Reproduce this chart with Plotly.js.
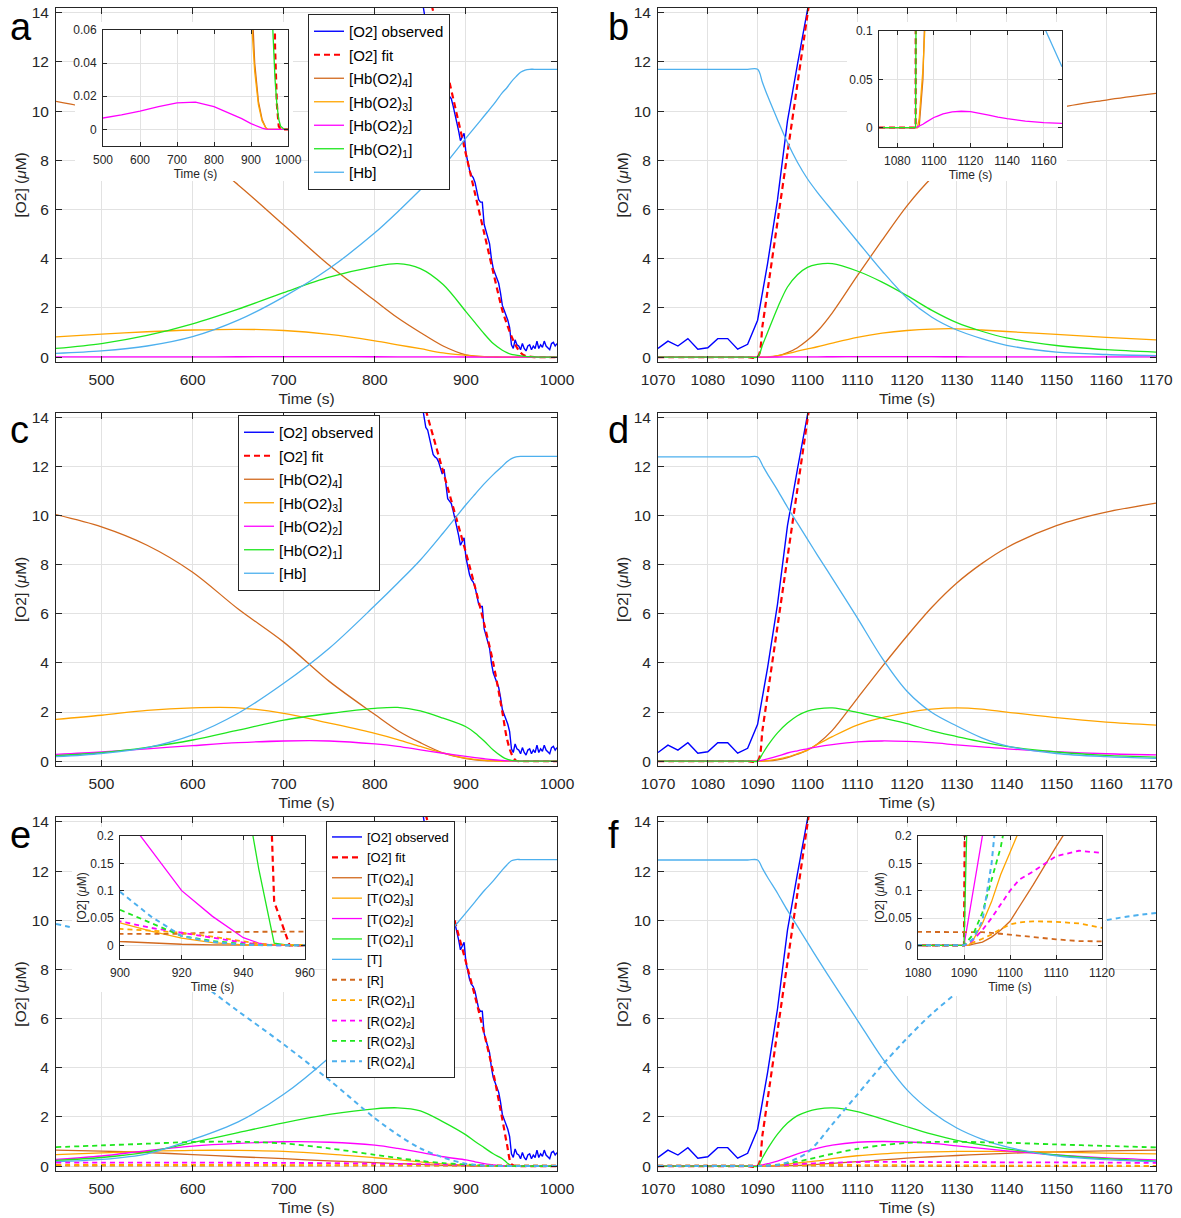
<!DOCTYPE html>
<html><head><meta charset="utf-8">
<script src="https://cdn.plot.ly/plotly-3.0.1.min.js"></script>
<style>html,body{margin:0;padding:0;background:#fff}#p{width:1181px;height:1218px}</style>
</head><body><div id="p"></div>
<script>
// ---------- time grids ----------
const gridL = [450,500,550,600,650,700,750,800,825,850,875,900,910,920,930,940,945,950,955,960,965,970,975,980,990,1000];
const gridR = [1070,1080,1088,1090,1091,1092,1094,1096,1098,1100,1102,1105,1110,1115,1120,1125,1130,1135,1140,1150,1160,1170];

// ---------- observed O2 ----------
const obsLT = [852,854,856,858,860,862,864,866,868,870,872,874,876,878,880,882,884,886,888,890,892,894,896,898,900,902,904,906,908,910,912,914,916,918,920,922,924,926,928,930,932,934,936,938,940,942,944,946,948,950,952,954,956,958,960,962,964,966,968,970,972,974,976,978,980,982,984,986,988,990,992,994,996,998,1000];
const obsL = [14.5,14.0,13.6,13.5,13.2,12.9,12.5,12.4,12.35,12.2,11.9,11.7,11.9,11.3,10.7,10.6,10.5,10.2,9.9,9.6,9.2,8.8,8.95,9.1,8.3,7.9,7.6,7.4,7.3,7.1,6.7,6.4,6.3,6.3,5.4,5.1,4.8,4.6,4.0,3.6,3.4,3.2,3.0,2.6,2.1,1.9,1.7,1.5,1.2,0.5,0.35,0.7,0.5,0.45,0.3,0.55,0.35,0.25,0.45,0.5,0.3,0.45,0.35,0.65,0.35,0.5,0.4,0.65,0.45,0.35,0.3,0.55,0.6,0.45,0.55];
const obsRT = [1070,1072,1074,1076,1078,1080,1082,1084,1086,1088,1090,1092,1094,1096,1098,1100,1102];
const obsR = [0.35,0.65,0.45,0.75,0.32,0.38,0.75,0.75,0.32,0.52,1.5,3.8,6.4,9.6,11.9,14.0,16.3];

// ---------- panel a ----------
const aFit = [null,null,null,null,null,null,null,null,null,16.3,12.3,8.25,6.65,5.05,3.45,1.9,1.35,0.85,0.45,0.18,0.05,0.015,0.002,0,0,0];
const aHb4 = [10.4,10.0,9.3,8.45,7.0,5.37,3.73,2.3,1.6,1.0,0.45,0.09,0.04,0.017,0.006,0.001,0,0,0,0,0,0,0,0,0,0];
const aHb3 = [0.82,0.93,1.03,1.1,1.13,1.08,0.92,0.66,0.5,0.34,0.17,0.07,0.035,0.015,0.005,0.001,0,0,0,0,0,0,0,0,0,0];
const aHb2 = [0.005,0.0068,0.0088,0.011,0.0138,0.016,0.0165,0.0138,0.0115,0.009,0.0065,0.0035,0.0025,0.0015,0.0008,0.0002,0.0001,0,0,0,0,0,0,0,0,0];
const aHb1 = [0.35,0.55,0.88,1.35,1.95,2.62,3.25,3.68,3.8,3.6,2.95,1.85,1.4,0.95,0.55,0.28,0.18,0.11,0.08,0.05,0.03,0.015,0.006,0.002,0,0];
const aHb  = [0.15,0.25,0.45,0.83,1.5,2.45,3.6,5.05,5.9,6.8,7.75,8.9,9.35,9.8,10.25,10.75,10.95,11.2,11.4,11.58,11.67,11.7,11.7,11.7,11.7,11.7];

// ---------- panel b ----------
const rFit = [0,0,0,0,1.3,2.7,5.5,8.3,11.1,13.9,16.7,null,null,null,null,null,null,null,null,null,null,null];
const bHb4 = [0,0,0,0,0,0.002,0.05,0.18,0.38,0.68,1.05,1.8,3.3,4.75,6.15,7.3,8.2,8.9,9.4,10.1,10.45,10.72];
const bHb3 = [0,0,0,0,0,0.01,0.06,0.14,0.24,0.33,0.42,0.57,0.8,0.97,1.08,1.14,1.15,1.1,1.04,0.92,0.8,0.7];
const bHb2 = [0,0,0,0,0.0008,0.0015,0.0035,0.006,0.0085,0.0105,0.012,0.0143,0.0163,0.017,0.0165,0.015,0.013,0.011,0.0093,0.0068,0.0052,0.0045];
const bHb1 = [0,0,0,0,0.5,1.0,2.0,2.85,3.35,3.65,3.77,3.8,3.5,3.05,2.5,1.9,1.4,1.05,0.78,0.47,0.3,0.2];
const bHb  = [11.7,11.7,11.7,11.7,11.15,10.62,9.65,8.72,7.92,7.25,6.7,5.95,4.72,3.5,2.4,1.62,1.1,0.75,0.48,0.2,0.105,0.063];

// ---------- panel c ----------
const cFit = [null,null,null,null,null,null,null,null,null,15.1,11.8,8.5,7.1,5.6,4.0,2.0,0.92,0.3,0.02,0,0,0,0,0,0,0];
const cHb4 = [10.05,9.55,8.8,7.7,6.2,4.85,3.25,1.9,1.25,0.75,0.33,0.1,0.05,0.02,0.007,0.002,0.001,0,0,0,0,0,0,0,0,0];
const cHb3 = [1.7,1.87,2.07,2.17,2.17,1.95,1.55,1.13,0.88,0.6,0.33,0.12,0.07,0.035,0.015,0.004,0.002,0,0,0,0,0,0,0,0,0];
const cHb2 = [0.27,0.37,0.5,0.63,0.75,0.82,0.82,0.7,0.6,0.46,0.32,0.19,0.14,0.095,0.055,0.025,0.013,0.005,0.001,0,0,0,0,0,0,0];
const cHb1 = [0.22,0.34,0.56,0.86,1.26,1.67,1.94,2.15,2.19,2.05,1.75,1.4,1.15,0.82,0.45,0.17,0.08,0.025,0.005,0,0,0,0,0,0,0];
const cHb  = [0.18,0.31,0.55,1.07,1.95,3.17,4.6,6.34,7.25,8.2,9.3,10.45,10.88,11.3,11.68,12.02,12.2,12.33,12.4,12.42,12.42,12.42,12.42,12.42,12.42,12.42];

// ---------- panel d ----------
const dHb4 = [0,0,0,0,0,0.005,0.05,0.14,0.28,0.45,0.7,1.25,2.55,3.85,5.1,6.27,7.26,8.05,8.7,9.6,10.15,10.52];
const dHb3 = [0,0,0,0,0,0.02,0.08,0.17,0.3,0.45,0.68,1.0,1.47,1.77,1.98,2.12,2.17,2.12,2.0,1.77,1.59,1.47];
const dHb2 = [0,0,0,0,0.04,0.09,0.2,0.33,0.42,0.5,0.58,0.67,0.78,0.82,0.8,0.75,0.66,0.58,0.5,0.38,0.3,0.25];
const dHb1 = [0,0,0,0,0.3,0.62,1.15,1.55,1.85,2.04,2.13,2.17,1.99,1.76,1.53,1.23,1.0,0.78,0.6,0.37,0.23,0.16];
const dHb  = [12.4,12.4,12.4,12.4,12.05,11.7,11.05,10.35,9.7,9.05,8.4,7.45,5.85,4.2,2.85,1.98,1.43,0.95,0.62,0.31,0.18,0.11];

// ---------- panel e ----------
const eFit = [null,null,null,null,null,null,null,null,null,15.1,11.7,8.3,6.9,5.4,3.8,1.9,0.9,0.08,0,0,0,0,0,0,0,0];
const eT4 = [0.65,0.61,0.55,0.47,0.38,0.3,0.21,0.14,0.1,0.07,0.03,0.007,0.004,0.002,0.001,0,0,0,0,0,0,0,0,0,0,0];
const eT3 = [0.47,0.54,0.6,0.64,0.64,0.6,0.49,0.34,0.26,0.17,0.09,0.041,0.026,0.013,0.005,0.001,0,0,0,0,0,0,0,0,0,0];
const eT2 = [0.27,0.41,0.63,0.81,0.92,0.99,0.97,0.85,0.72,0.56,0.38,0.25,0.175,0.1,0.053,0.014,0.004,0,0,0,0,0,0,0,0,0];
const eT1 = [0.23,0.35,0.57,0.95,1.36,1.76,2.1,2.33,2.37,2.25,1.8,1.27,1.0,0.75,0.5,0.3,0.14,0.004,0,0,0,0,0,0,0,0];
const eT  = [0.18,0.27,0.5,1.08,1.8,2.92,4.42,6.2,7.15,8.1,9.2,10.3,10.75,11.2,11.6,12.05,12.25,12.42,12.47,12.47,12.47,12.47,12.47,12.47,12.47,12.47];
const eR  = [0.02,0.02,0.02,0.02,0.02,0.02,0.02,0.02,0.02,0.02,0.02,0.02,0.02,0.021,0.024,0.025,0.025,0.025,0.025,0.025,0.025,0.025,0.025,0.025,0.025,0.025];
const eR1 = [0.045,0.045,0.045,0.045,0.044,0.043,0.04,0.038,0.036,0.035,0.033,0.03,0.027,0.023,0.016,0.008,0.003,0.001,0,0,0,0,0,0,0,0];
const eR2 = [0.14,0.14,0.14,0.14,0.135,0.13,0.12,0.1,0.09,0.08,0.063,0.044,0.032,0.023,0.014,0.005,0.002,0,0,0,0,0,0,0,0,0];
const eR3 = [0.77,0.84,0.91,0.98,0.99,0.92,0.72,0.46,0.33,0.21,0.12,0.065,0.041,0.017,0.008,0.002,0.001,0,0,0,0,0,0,0,0,0];
const eR4 = [9.85,9.4,8.7,7.65,6.3,4.95,3.5,1.95,1.28,0.72,0.35,0.098,0.053,0.017,0.006,0.001,0,0,0,0,0,0,0,0,0,0];

// ---------- panel f ----------
const fT4 = [0,0,0,0,0,0.002,0.006,0.015,0.028,0.044,0.07,0.11,0.18,0.25,0.32,0.38,0.43,0.48,0.52,0.58,0.62,0.65];
const fT3 = [0,0,0,0,0,0.01,0.04,0.08,0.13,0.17,0.21,0.3,0.42,0.5,0.55,0.58,0.6,0.6,0.6,0.57,0.53,0.5];
const fT2 = [0,0,0,0,0.05,0.1,0.2,0.35,0.5,0.62,0.72,0.85,0.97,1.0,0.98,0.92,0.82,0.72,0.62,0.45,0.33,0.25];
const fT1 = [0,0,0,0,0.35,0.7,1.3,1.75,2.05,2.22,2.32,2.37,2.22,1.92,1.6,1.3,1.05,0.86,0.7,0.45,0.3,0.2];
const fT  = [12.45,12.45,12.45,12.45,12.1,11.75,11.1,10.4,9.75,9.1,8.45,7.5,5.95,4.4,3.1,2.2,1.55,1.1,0.78,0.42,0.26,0.18];
const fR  = [0.025,0.025,0.025,0.025,0.025,0.0248,0.024,0.0228,0.021,0.019,0.017,0.0145,0.011,0.0078,0.006,0.0048,0.004,0.0032,0.0026,0.0018,0.0013,0.001];
const fR1 = [0,0,0,0,0.002,0.005,0.012,0.02,0.03,0.038,0.042,0.044,0.043,0.04,0.032,0.029,0.026,0.023,0.021,0.017,0.014,0.012];
const fR2 = [0,0,0,0,0.003,0.01,0.028,0.05,0.075,0.1,0.12,0.135,0.163,0.173,0.169,0.165,0.16,0.157,0.154,0.148,0.14,0.13];
const fR3 = [0,0,0,0,0.01,0.02,0.06,0.12,0.18,0.27,0.36,0.5,0.7,0.85,0.94,0.98,0.99,0.97,0.95,0.88,0.82,0.76];
const fR4 = [0,0,0,0,0.005,0.012,0.045,0.15,0.32,0.55,0.95,1.7,2.9,4.1,5.2,6.2,7.05,7.85,8.5,9.4,10.0,10.3];

// ---------- labels ----------
const hbNames = ['[O2] observed','[O2] fit','[Hb(O2)<sub>4</sub>]','[Hb(O2)<sub>3</sub>]','[Hb(O2)<sub>2</sub>]','[Hb(O2)<sub>1</sub>]','[Hb]'];
const trNames = ['[O2] observed','[O2] fit','[T(O2)<sub>4</sub>]','[T(O2)<sub>3</sub>]','[T(O2)<sub>2</sub>]','[T(O2)<sub>1</sub>]','[T]','[R]','[R(O2)<sub>1</sub>]','[R(O2)<sub>2</sub>]','[R(O2)<sub>3</sub>]','[R(O2)<sub>4</sub>]'];
const panelLetters = ['a','b','c','d','e','f'];

// ---------- styling ----------
const W = 1181, H = 1218;
const FONT = 'Liberation Sans, Arial, Helvetica, sans-serif';
const C = {obs:'#0000ff', fit:'#ff0000', c4:'#d2691e', c3:'#ffa500', c2:'#ff00ff', c1:'#1ee61e', c0:'#4db0ee'};
const dx = (a,b) => [a/W, b/W];
const dy = (t,b) => [1-b/H, 1-t/H];

const traces = [];
function line(x, y, color, ax, o) {
  o = o || {};
  const t = {
    type:'scatter', mode:'lines', x:x, y:y,
    xaxis:'x'+ax, yaxis:'y'+ax,
    line:{color:color, width:o.w||1.3, dash:o.dash||'solid', shape:o.shape||'spline', smoothing:0.9},
    showlegend: !!o.name, hoverinfo:'skip', connectgaps:false
  };
  if (o.name) { t.name = o.name; t.legend = o.legend; t.legendgroup = o.legend + o.name; }
  traces.push(t);
}
const axN = n => (n === 1 ? '' : String(n));

function hbPanel(ax, gx, obsT, obsV, fit, s4, s3, s2, s1, s0, legendId, sh) {
  const nm = i => legendId ? {name:hbNames[i], legend:legendId} : {};
  if (obsV) line(obsT, obsV, C.obs, ax, Object.assign({w:1.4, shape:'linear'}, nm(0)));
  line(gx, fit, C.fit, ax, Object.assign({w:2.2, dash:'6px,4px', shape:sh}, nm(1)));
  line(gx, s4, C.c4, ax, Object.assign({shape:sh}, nm(2)));
  line(gx, s3, C.c3, ax, Object.assign({shape:sh}, nm(3)));
  line(gx, s2, C.c2, ax, Object.assign({shape:sh}, nm(4)));
  line(gx, s1, C.c1, ax, Object.assign({shape:sh}, nm(5)));
  line(gx, s0, C.c0, ax, Object.assign({shape:sh}, nm(6)));
}
function trPanel(ax, gx, obsT, obsV, fit, T4, T3, T2, T1, T0, R0, R1, R2, R3, R4, legendId, sh) {
  const nm = i => legendId ? {name:trNames[i], legend:legendId} : {};
  const dd = '5px,4px';
  if (obsV) line(obsT, obsV, C.obs, ax, Object.assign({w:1.4, shape:'linear'}, nm(0)));
  line(gx, fit, C.fit, ax, Object.assign({w:2.2, dash:'6px,4px', shape:sh}, nm(1)));
  line(gx, T4, C.c4, ax, Object.assign({shape:sh}, nm(2)));
  line(gx, T3, C.c3, ax, Object.assign({shape:sh}, nm(3)));
  line(gx, T2, C.c2, ax, Object.assign({shape:sh}, nm(4)));
  line(gx, T1, C.c1, ax, Object.assign({shape:sh}, nm(5)));
  line(gx, T0, C.c0, ax, Object.assign({shape:sh}, nm(6)));
  line(gx, R0, C.c4, ax, Object.assign({shape:sh, dash:dd, w:1.8}, nm(7)));
  line(gx, R1, C.c3, ax, Object.assign({shape:sh, dash:dd, w:1.8}, nm(8)));
  line(gx, R2, C.c2, ax, Object.assign({shape:sh, dash:dd, w:1.8}, nm(9)));
  line(gx, R3, C.c1, ax, Object.assign({shape:sh, dash:dd, w:1.8}, nm(10)));
  line(gx, R4, C.c0, ax, Object.assign({shape:sh, dash:dd, w:2.0}, nm(11)));
}

// main panels (axes 1..6)
hbPanel(1, gridL, obsLT, obsL, aFit, aHb4, aHb3, aHb2, aHb1, aHb, 'legend', 'spline');
hbPanel(2, gridR, obsRT, obsR, rFit, bHb4, bHb3, bHb2, bHb1, bHb, null, 'spline');
hbPanel(3, gridL, obsLT, obsL, cFit, cHb4, cHb3, cHb2, cHb1, cHb, 'legend2', 'spline');
hbPanel(4, gridR, obsRT, obsR, rFit, dHb4, dHb3, dHb2, dHb1, dHb, null, 'spline');
trPanel(5, gridL, obsLT, obsL, eFit, eT4, eT3, eT2, eT1, eT, eR, eR1, eR2, eR3, eR4, 'legend3', 'spline');
trPanel(6, gridR, obsRT, obsR, rFit, fT4, fT3, fT2, fT1, fT, fR, fR1, fR2, fR3, fR4, null, 'spline');
// white cover boxes behind the insets (axes 7..10)
for (let k = 7; k <= 10; k++) traces.push({type:'scatter', mode:'lines', x:[null], y:[null], xaxis:'x'+k, yaxis:'y'+k, showlegend:false, hoverinfo:'skip'});
// insets (axes 11..14)
hbPanel(11, gridL, null, null, aFit, aHb4, aHb3, aHb2, aHb1, aHb, null, 'linear');
hbPanel(12, gridR, null, null, rFit, bHb4, bHb3, bHb2, bHb1, bHb, null, 'linear');
trPanel(13, gridL, null, null, eFit, eT4, eT3, eT2, eT1, eT, eR, eR1, eR2, eR3, eR4, null, 'linear');
trPanel(14, gridR, null, null, rFit, fT4, fT3, fT2, fT1, fT, fR, fR1, fR2, fR3, fR4, null, 'linear');

// ---------- axes ----------
const layout = {
  width: W, height: H, margin:{l:0,r:0,t:0,b:0}, paper_bgcolor:'#fff', plot_bgcolor:'#fff',
  showlegend: true, annotations: [], font:{family:FONT, color:'#262626'}
};
function setAxes(n, xd, yd, xr, yr, xt0, xdt, yt0, ydt, fs, tl, xtitle, ytitle, xst, yst) {
  const common = {
    showline:true, mirror:'ticks', linecolor:'#262626', linewidth:1,
    ticks:'inside', ticklen:tl, tickwidth:1, tickcolor:'#262626',
    showgrid:true, gridcolor:'#e2e2e2', gridwidth:1, zeroline:false,
    tickfont:{family:FONT, size:fs, color:'#262626'}, tickmode:'linear', fixedrange:true,
    ticklabelstandoff: 3
  };
  const xa = Object.assign({}, common, {domain:xd, range:xr, tick0:xt0, dtick:xdt, anchor:'y'+axN(n)});
  const ya = Object.assign({}, common, {domain:yd, range:yr, tick0:yt0, dtick:ydt, anchor:'x'+axN(n)});
  if (xtitle) xa.title = {text:xtitle, font:{family:FONT, size:fs, color:'#262626'}, standoff:xst};
  if (ytitle) ya.title = {text:ytitle, font:{family:FONT, size:fs, color:'#262626'}, standoff:yst};
  layout['xaxis'+axN(n)] = xa;
  layout['yaxis'+axN(n)] = ya;
}
const yTitle = '[O2] (<i>μ</i>M)';
const xTitle = 'Time (s)';
const rowY = [dy(7.8,362), dy(412.8,766), dy(817,1171)];
const colXL = dx(56,557), colXR = dx(658,1156);
const YR = [-0.2,14.2];
setAxes(1, colXL, rowY[0], [450,1000], YR, 500, 100, 0, 2, 15.5, 6, xTitle, yTitle, 6, 1);
setAxes(2, colXR, rowY[0], [1070,1170], YR, 1070, 10, 0, 2, 15.5, 6, xTitle, yTitle, 6, 1);
setAxes(3, colXL, rowY[1], [450,1000], YR, 500, 100, 0, 2, 15.5, 6, xTitle, yTitle, 6, 1);
setAxes(4, colXR, rowY[1], [1070,1170], YR, 1070, 10, 0, 2, 15.5, 6, xTitle, yTitle, 6, 1);
setAxes(5, colXL, rowY[2], [450,1000], YR, 500, 100, 0, 2, 15.5, 6, xTitle, yTitle, 6, 1);
setAxes(6, colXR, rowY[2], [1070,1170], YR, 1070, 10, 0, 2, 15.5, 6, xTitle, yTitle, 6, 1);
// cover boxes
const covers = [[75,293,22,181],[847,1067,22,181],[72,309,827,992],[868,1105,827,996]];
covers.forEach((c,i) => {
  const n = 7 + i;
  layout['xaxis'+n] = {domain:dx(c[0],c[1]), visible:false, anchor:'y'+n, range:[0,1], fixedrange:true};
  layout['yaxis'+n] = {domain:dy(c[2],c[3]), visible:false, anchor:'x'+n, range:[0,1], fixedrange:true};
});
// insets
setAxes(11, dx(103,288), dy(30,146), [500,1000], [-0.01,0.06], 500, 100, 0, 0.02, 12, 4, xTitle, null, 2, 2);
setAxes(12, dx(879,1062), dy(31,147), [1070,1170], [-0.02,0.1], 1080, 20, 0, 0.05, 12, 4, xTitle, null, 2, 2);
setAxes(13, dx(120,305), dy(836,959), [900,960], [-0.025,0.2], 900, 20, 0, 0.05, 12, 4, xTitle, yTitle, 2, 1);
setAxes(14, dx(918,1102), dy(836,959), [1080,1120], [-0.025,0.2], 1080, 10, 0, 0.05, 12, 4, xTitle, yTitle, 2, 1);

// legends
const legBase = {bgcolor:'#ffffff', bordercolor:'#262626', borderwidth:1, itemwidth:30,
  xanchor:'left', yanchor:'top', traceorder:'grouped', itemclick:false, itemdoubleclick:false};
layout.legend  = Object.assign({}, legBase, {x:308/W, y:1-14/H,  font:{family:FONT,size:15,color:'#000'}, tracegroupgap:1});
layout.legend2 = Object.assign({}, legBase, {x:238/W, y:1-415/H, font:{family:FONT,size:15,color:'#000'}, tracegroupgap:1});
layout.legend3 = Object.assign({}, legBase, {x:326/W, y:1-821/H, font:{family:FONT,size:13,color:'#000'}, tracegroupgap:0.5});

// panel letters
const letterPos = [[8,4],[606,4],[8,407],[606,407],[8,812],[606,812]];
panelLetters.forEach((L,i) => {
  layout.annotations.push({text:L, xref:'paper', yref:'paper', x:letterPos[i][0]/W, y:1-letterPos[i][1]/H,
    xanchor:'left', yanchor:'top', showarrow:false, font:{family:FONT, size:38, color:'#000'}});
});

Plotly.newPlot('p', traces, layout, {staticPlot:true, displayModeBar:false});
</script></body></html>
